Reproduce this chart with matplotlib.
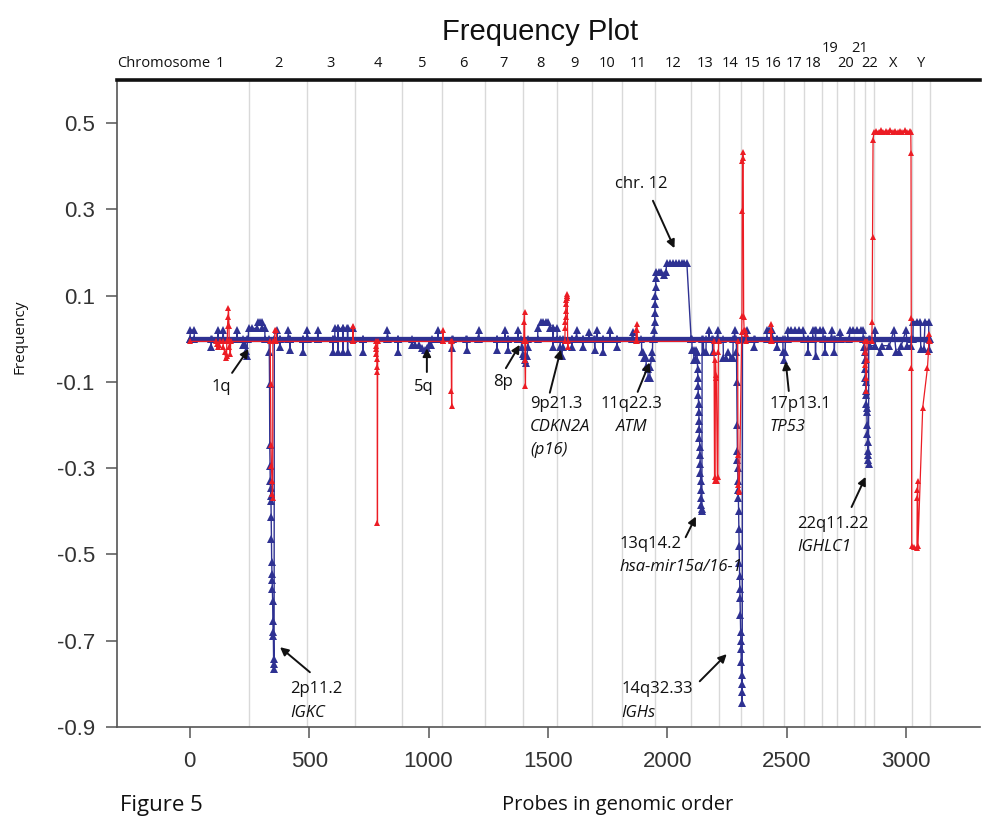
import matplotlib
matplotlib.use("Agg")
import matplotlib.pyplot as plt
from matplotlib.transforms import blended_transform_factory

# ---------------- data ----------------
chrom_names = ['1', '2', '3', '4', '5', '6', '7', '8', '9', '10', '11', '12',
               '13', '14', '15', '16', '17', '18', '19', '20', '21', '22', 'X', 'Y']
chrom_ends = [248, 491, 690, 888, 1058, 1236, 1394, 1540, 1685, 1811, 1948, 2098,
              2217, 2308, 2401, 2489, 2571, 2650, 2712, 2781, 2830, 2866, 3025, 3099]
raised_labels = ['19', '21']

x_ticks = [0, 500, 1000, 1500, 2000, 2500, 3000]
y_ticks = [0.5, 0.3, 0.1, -0.1, -0.3, -0.5, -0.7, -0.9]
y_tick_labels = ['0.5', '0.3', '0.1', '-0.1', '-0.3', '-0.5', '-0.7', '-0.9']

n_probes = 3099
blue_base = 0.0
red_base = -0.006

# blue series: deviations from the baseline, (probe, frequency)
blue_events = [
    [(2, 0.02), (18, 0.02)],
    [(90, -0.018)],
    [(118, 0.02)],
    [(140, 0.02)],
    [(198, 0.02)],
    [(222, -0.015), (232, -0.015), (236, -0.028), (240, -0.04)],
    [(246, 0.024), (262, 0.024), (282, 0.024), (284, 0.04), (293, 0.04), (302, 0.04),
     (304, 0.024), (314, 0.024)],
    [(333, -0.03), (334, -0.104), (335, -0.246), (336, -0.295), (337, -0.33), (338, -0.345),
     (339, -0.364), (340, -0.376), (341, -0.413), (342, -0.464), (343, -0.518), (344, -0.545),
     (345, -0.56), (346, -0.58), (347, -0.608), (348, -0.655), (349, -0.68), (350, -0.69),
     (351, -0.743), (352, -0.755), (353, -0.766)],
    [(366, 0.02)],
    [(378, -0.02)],
    [(413, 0.02)],
    [(420, -0.025)],
    [(474, -0.03)],
    [(492, 0.02)],
    [(536, 0.02)],
    [(600, -0.03)],
    [(608, 0.024), (620, 0.024), (621, -0.03), (622, 0.024), (640, 0.024), (641, -0.03),
     (642, 0.024), (660, 0.024), (661, -0.03), (662, 0.024), (683, 0.024)],
    [(726, -0.03)],
    [(828, 0.02)],
    [(872, -0.03)],
    [(930, -0.015), (945, -0.015), (960, -0.015), (972, -0.022), (985, -0.025),
     (995, -0.022), (1000, -0.015), (1012, -0.015)],
    [(1040, 0.02)],
    [(1100, -0.022)],
    [(1160, -0.025)],
    [(1210, 0.02)],
    [(1286, -0.025)],
    [(1320, 0.02)],
    [(1333, -0.025)],
    [(1375, 0.02)],
    [(1390, -0.02), (1395, -0.035), (1400, -0.04), (1404, -0.05), (1408, -0.057),
     (1412, -0.04), (1416, -0.02)],
    [(1458, 0.025), (1470, 0.04), (1480, 0.04), (1490, 0.04), (1500, 0.04), (1510, 0.025),
     (1521, 0.025), (1522, -0.02), (1523, 0.025), (1538, 0.025)],
    [(1552, -0.02), (1558, -0.04), (1562, -0.02)],
    [(1600, -0.02)],
    [(1620, 0.02)],
    [(1646, -0.02)],
    [(1672, 0.015)],
    [(1696, -0.025)],
    [(1705, 0.02)],
    [(1731, -0.03)],
    [(1760, 0.02)],
    [(1790, -0.02)],
    [(1855, 0.015)],
    [(1893, -0.03), (1900, -0.03), (1903, -0.045), (1910, -0.045), (1913, -0.065),
     (1918, -0.07), (1921, -0.09), (1926, -0.09), (1929, -0.065), (1934, -0.045), (1938, -0.03)],
    [(1946, 0.02), (1947, 0.04), (1948, 0.06), (1949, 0.08), (1950, 0.1), (1951, 0.12),
     (1952, 0.14), (1953, 0.155), (1965, 0.155), (1975, 0.155), (1985, 0.148), (1995, 0.155),
     (1997, 0.176), (2010, 0.176), (2022, 0.176), (2035, 0.176), (2048, 0.176), (2060, 0.176),
     (2072, 0.176), (2082, 0.176), (2100, 0.0)],
    [(2104, -0.025), (2110, -0.025), (2112, -0.05), (2118, -0.05), (2120, -0.025),
     (2124, -0.03), (2126, -0.05), (2127, -0.07), (2128, -0.09), (2129, -0.11), (2130, -0.13),
     (2131, -0.15), (2132, -0.17), (2133, -0.19), (2134, -0.21), (2135, -0.23), (2136, -0.25),
     (2137, -0.27), (2138, -0.29), (2139, -0.31), (2140, -0.33), (2141, -0.35), (2142, -0.37),
     (2143, -0.385), (2144, -0.395), (2145, -0.40)],
    [(2152, -0.03), (2162, -0.03)],
    [(2175, 0.02)],
    [(2190, -0.03)],
    [(2211, 0.02)],
    [(2235, -0.045), (2245, -0.045), (2255, -0.03), (2265, -0.045), (2275, -0.045)],
    [(2282, 0.02)],
    [(2290, -0.03), (2291, -0.1), (2292, -0.2), (2293, -0.26), (2294, -0.28), (2295, -0.3),
     (2296, -0.33), (2297, -0.35), (2298, -0.37), (2299, -0.4), (2300, -0.44), (2301, -0.48),
     (2302, -0.52), (2303, -0.55), (2304, -0.58), (2305, -0.6), (2306, -0.64), (2307, -0.68),
     (2308, -0.7), (2309, -0.72), (2310, -0.75), (2311, -0.78), (2312, -0.8), (2313, -0.82),
     (2314, -0.845)],
    [(2335, 0.02)],
    [(2365, -0.02)],
    [(2418, 0.02), (2428, 0.02), (2440, 0.02)],
    [(2460, -0.02)],
    [(2485, -0.03), (2490, -0.05), (2494, -0.03)],
    [(2505, 0.02), (2520, 0.02), (2535, 0.02), (2550, 0.02), (2570, 0.02)],
    [(2590, -0.03)],
    [(2610, 0.02), (2620, 0.02), (2621, -0.04), (2622, 0.02), (2640, 0.02), (2652, 0.02)],
    [(2660, -0.03)],
    [(2688, 0.02)],
    [(2700, -0.03)],
    [(2725, 0.015)],
    [(2764, 0.02), (2780, 0.02), (2795, 0.02), (2810, 0.02), (2820, 0.02)],
    [(2826, -0.02), (2827, -0.03), (2828, -0.05), (2829, -0.07), (2830, -0.09), (2831, -0.1),
     (2832, -0.12), (2833, -0.13), (2834, -0.15), (2835, -0.16), (2836, -0.17), (2837, -0.2),
     (2838, -0.22), (2839, -0.24), (2840, -0.26), (2841, -0.27), (2842, -0.28), (2843, -0.29)],
    [(2850, -0.016), (2870, -0.016), (2871, 0.02), (2872, -0.016), (2890, -0.03),
     (2900, -0.016), (2930, -0.016), (2950, 0.02), (2958, -0.03), (2970, -0.03),
     (2980, -0.016), (3000, 0.02), (3005, -0.016), (3022, -0.016)],
    [(3030, 0.04), (3045, 0.04), (3060, 0.04), (3062, -0.023), (3075, -0.023),
     (3080, 0.04), (3095, 0.04), (3096, -0.023)],
]

# red series: deviations from its baseline, (probe, frequency)
red_events = [
    [(112, -0.012), (118, -0.02), (124, -0.015)],
    [(140, -0.02), (146, -0.03), (150, -0.045), (154, -0.04)],
    [(158, 0.03), (160, 0.05), (162, 0.072), (164, 0.03)],
    [(166, -0.02), (170, -0.035)],
    [(338, -0.104), (340, -0.246), (342, -0.295), (344, -0.33), (346, -0.36), (347, -0.37)],
    [(356, 0.02), (362, 0.02)],
    [(683, 0.03)],
    [(780, -0.016), (781, -0.023), (782, -0.035), (783, -0.046), (784, -0.065),
     (785, -0.077), (786, -0.426)],
    [(1060, 0.02)],
    [(1096, -0.12), (1097, -0.155)],
    [(1400, 0.04), (1402, 0.063), (1404, -0.05), (1406, -0.11)],
    [(1572, 0.025), (1573, 0.04), (1574, 0.05), (1575, 0.065), (1576, 0.08), (1577, 0.09),
     (1578, 0.095), (1579, 0.1), (1580, 0.105), (1581, 0.1), (1583, -0.02)],
    [(1870, 0.02), (1872, 0.035), (1874, 0.02)],
    [(2196, -0.03), (2198, -0.33), (2200, -0.32), (2202, -0.05), (2204, -0.085),
     (2206, -0.09), (2210, -0.33), (2212, -0.32), (2214, -0.03)],
    [(2296, -0.27), (2298, -0.34), (2300, -0.355), (2302, -0.35), (2312, 0.016),
     (2313, 0.053), (2314, 0.297), (2315, 0.413), (2316, 0.434), (2318, 0.42),
     (2320, 0.05), (2322, 0.02), (2326, 0.02), (2330, 0.01)],
    [(2434, 0.02), (2436, 0.035)],
    [(2828, -0.03), (2830, -0.06), (2832, -0.09), (2834, -0.12), (2836, -0.05)],
    [(2858, 0.039), (2860, 0.237), (2862, 0.462), (2866, 0.48), (2875, 0.482), (2885, 0.48),
     (2895, 0.485), (2905, 0.48), (2915, 0.482), (2925, 0.48), (2935, 0.484), (2945, 0.48),
     (2955, 0.482), (2965, 0.48), (2975, 0.482), (2985, 0.48), (2995, 0.483), (3005, 0.48),
     (3015, 0.482), (3020, 0.48), (3021, 0.43), (3022, 0.048), (3023, -0.067),
     (3024, -0.48), (3034, -0.482), (3046, -0.485), (3047, -0.37), (3048, -0.35),
     (3049, -0.33), (3050, -0.48), (3070, -0.16), (3090, -0.067), (3094, -0.03),
     (3097, 0.01)],
]

# annotations: (text lines, x, y of first line, alignment, italic flags, arrow tail, arrow head)
annotations = [
    (['chr. 12'], 1893, 0.36, 'center', [False], (1940, 0.32), (2030, 0.21)),
    (['1q'], 131, -0.111, 'center', [False], (177, -0.079), (246, -0.024)),
    (['5q'], 981, -0.111, 'center', [False], (993, -0.077), (993, -0.022)),
    (['8p'], 1312, -0.10, 'center', [False], (1324, -0.068), (1382, -0.014)),
    (['9p21.3', 'CDKN2A', '(p16)'], 1425, -0.151, 'left', [False, True, True],
     (1508, -0.125), (1554, -0.025)),
    (['11q22.3', 'ATM'], 1851, -0.151, 'center', [False, True],
     (1876, -0.123), (1926, -0.055)),
    (['13q14.2', 'hsa-mir15a/16-1'], 1801, -0.476, 'left', [False, True],
     (2077, -0.46), (2120, -0.412)),
    (['2p11.2', 'IGKC'], 419, -0.813, 'left', [False, True],
     (503, -0.773), (378, -0.715)),
    (['14q32.33', 'IGHs'], 1809, -0.813, 'left', [False, True],
     (2136, -0.794), (2249, -0.731)),
    (['17p13.1', 'TP53'], 2429, -0.151, 'left', [False, True],
     (2509, -0.121), (2496, -0.052)),
    (['22q11.22', 'IGHLC1'], 2546, -0.43, 'left', [False, True],
     (2772, -0.39), (2831, -0.32)),
]


def build(events, base):
    xs, ys = [0], [base]
    for ev in events:
        xs += [ev[0][0] - 1] + [p[0] for p in ev] + [ev[-1][0] + 1]
        ys += [base] + [p[1] for p in ev] + [base]
    xs.append(n_probes)
    ys.append(base)
    return xs, ys


blue_x, blue_y = build(blue_events, blue_base)
red_x, red_y = build(red_events, red_base)

BLUE = '#2e3192'
RED = '#ec1c24'
TXT = ['Open Sans', 'DejaVu Sans']
NUM = ['Liberation Sans', 'DejaVu Sans']

fig = plt.figure(figsize=(9.88, 8.17), dpi=100)
ax = fig.add_axes([117 / 988, 1 - 727 / 817, (980 - 117) / 988, (727 - 80) / 817])
ax.set_xlim(-305, 3310)
ax.set_ylim(-0.9, 0.6)

# chromosome boundaries
ax.vlines(chrom_ends, -0.9, 0.6, colors='#d9d9d9', linewidth=1.0, zorder=1)

# series
ax.plot([blue_x[0], blue_x[-1]], [blue_base, blue_base], color=BLUE, lw=3.8,
        solid_capstyle='butt', zorder=2)
ax.plot(blue_x, blue_y, color=BLUE, lw=1.0, marker='^', ms=5.5, mew=0, zorder=3)
ax.plot(red_x, red_y, color=RED, lw=0.9, marker='^', ms=4.5, mew=0, zorder=4)

# axes style
ax.spines['right'].set_visible(False)
ax.spines['top'].set_linewidth(2.6)
ax.spines['top'].set_color('#111111')
for side in ['left', 'bottom']:
    ax.spines[side].set_linewidth(1.2)
    ax.spines[side].set_color('#555555')

ax.set_xticks(x_ticks)
ax.set_xticklabels([str(t) for t in x_ticks])
ax.set_yticks(y_ticks)
ax.set_yticklabels(y_tick_labels)
ax.tick_params(axis='both', direction='out', length=8, width=1.1, color='#555555',
               labelcolor='#333333', labelsize=16)
ax.tick_params(axis='x', pad=9)
ax.tick_params(axis='y', pad=8)
for lab in ax.get_xticklabels() + ax.get_yticklabels():
    lab.set_family(NUM)

# chromosome labels above the plot
trans = blended_transform_factory(ax.transData, ax.transAxes)
starts = [0] + chrom_ends[:-1]
for name, s, e in zip(chrom_names, starts, chrom_ends):
    yy = 1.049 if name in raised_labels else 1.026
    ax.text((s + e) / 2, yy, name, transform=trans, ha='center', va='center',
            fontsize=10.5, family=TXT, color='#111111')
ax.text(0.0, 1.026, 'Chromosome', transform=ax.transAxes, ha='left', va='center',
        fontsize=10.5, family=TXT, color='#111111')

# annotations
line_step = 0.0535
for lines, tx, ty, ha, ital, tail, head in annotations:
    for i, (ln, it) in enumerate(zip(lines, ital)):
        ax.text(tx, ty - i * line_step, ln, ha=ha, va='center', fontsize=12,
                family=TXT, style='italic' if it else 'normal', color='#111111', zorder=6)
    ax.annotate('', xy=head, xytext=tail,
                arrowprops=dict(arrowstyle='-|>', color='#111111', lw=1.4,
                                mutation_scale=12, shrinkA=0, shrinkB=0), zorder=6)

# titles and labels
fig.text(0.547, 0.961, 'Frequency Plot', ha='center', va='center', fontsize=21,
         family=NUM, color='#111111')
fig.text(20 / 988, 1 - 337 / 817, 'Frequency', rotation=90, ha='center', va='center',
         fontsize=11, family=TXT, color='#111111')
fig.text(618 / 988, 1 - 805 / 817, 'Probes in genomic order', ha='center', va='center',
         fontsize=14.5, family=TXT, color='#111111')
fig.text(120 / 988, 1 - 805 / 817, 'Figure 5', ha='left', va='center',
         fontsize=16, family=TXT, color='#111111')

fig.savefig('out.png', dpi=100)
